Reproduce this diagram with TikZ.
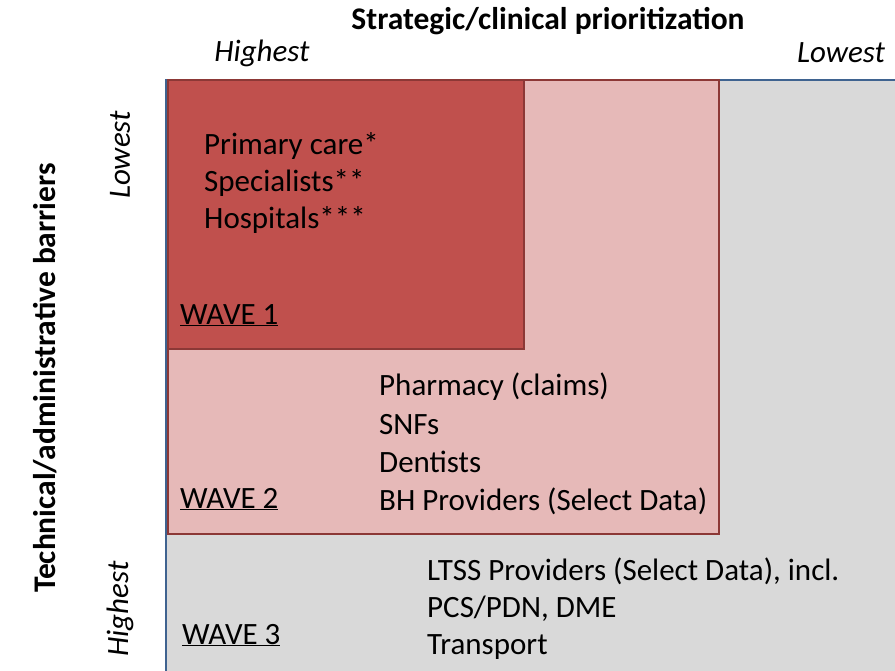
\documentclass[tikz,border=0pt]{standalone}
\usepackage{fontspec}
\setmainfont{Carlito}
\begin{document}
\begin{tikzpicture}[x=1pt,y=-1pt,
  wavebox/.style={line width=2.8pt,line join=miter},
  item/.style={anchor=base west,inner sep=0pt,font=\fontsize{31}{38}\selectfont},
  wavelabel/.style={anchor=base west,inner sep=0pt,font=\fontsize{31}{38}\selectfont},
  axistitle/.style={inner sep=0pt,font=\bfseries\fontsize{31.5}{38}\selectfont},
  axisend/.style={inner sep=0pt,font=\itshape\fontsize{31}{38}\selectfont}]
\definecolor{waveone}{HTML}{C0504D}
\definecolor{wavetwo}{HTML}{E6B9B8}
\definecolor{wavethree}{HTML}{D9D9D9}
\definecolor{redline}{HTML}{8C3836}
\definecolor{blueline}{HTML}{3F6390}
\useasboundingbox (0,0) rectangle (895,670);
\fill[white] (0,0) rectangle (895,670);

% Wave 3 region (runs off the right and bottom edges)
\fill[wavethree] (166,80) rectangle (897,672);
\draw[blueline,line width=2.8pt] (166,672) -- (166,80) -- (897,80);
% Wave 2 region
\draw[wavebox,redline,fill=wavetwo] (168,80) rectangle (719,534);
% Wave 1 region
\draw[wavebox,redline,fill=waveone] (168,80) rectangle (524,349);

% axis titles
\node[axistitle] (xtitle) at (548,21) {Strategic/clinical prioritization};
\node[axistitle,rotate=90] (ytitle) at (45,378) {Technical/administrative barriers};
\node[axisend] (xhigh) at (262,53) {Highest};
\node[axisend] (xlow) at (841,53) {Lowest};
\node[axisend,rotate=90] (ylow) at (120,155) {Lowest};
\node[axisend,rotate=90] (yhigh) at (120,609) {Highest};

% Wave 1
\node[item] (w1a) at (204,154) {Primary care*};
\node[item] (w1b) at (204,191) {Specialists**};
\node[item] (w1c) at (204,228) {Hospitals***};
\node[wavelabel] (w1) at (180,324) {\underline{WAVE 1}};

% Wave 2
\node[item] (w2a) at (379,395) {Pharmacy (claims)};
\node[item] (w2b) at (379,434) {SNFs};
\node[item] (w2c) at (379,472) {Dentists};
\node[item] (w2d) at (379,510) {BH Providers (Select Data)};
\node[wavelabel] (w2) at (180,508) {\underline{WAVE 2}};

% Wave 3
\node[item] (w3a) at (427,580) {LTSS Providers (Select Data), incl.};
\node[item] (w3b) at (427,617) {PCS/PDN, DME};
\node[item] (w3c) at (427,654) {Transport};
\node[wavelabel] (w3) at (182,644) {\underline{WAVE 3}};
\end{tikzpicture}
\end{document}
